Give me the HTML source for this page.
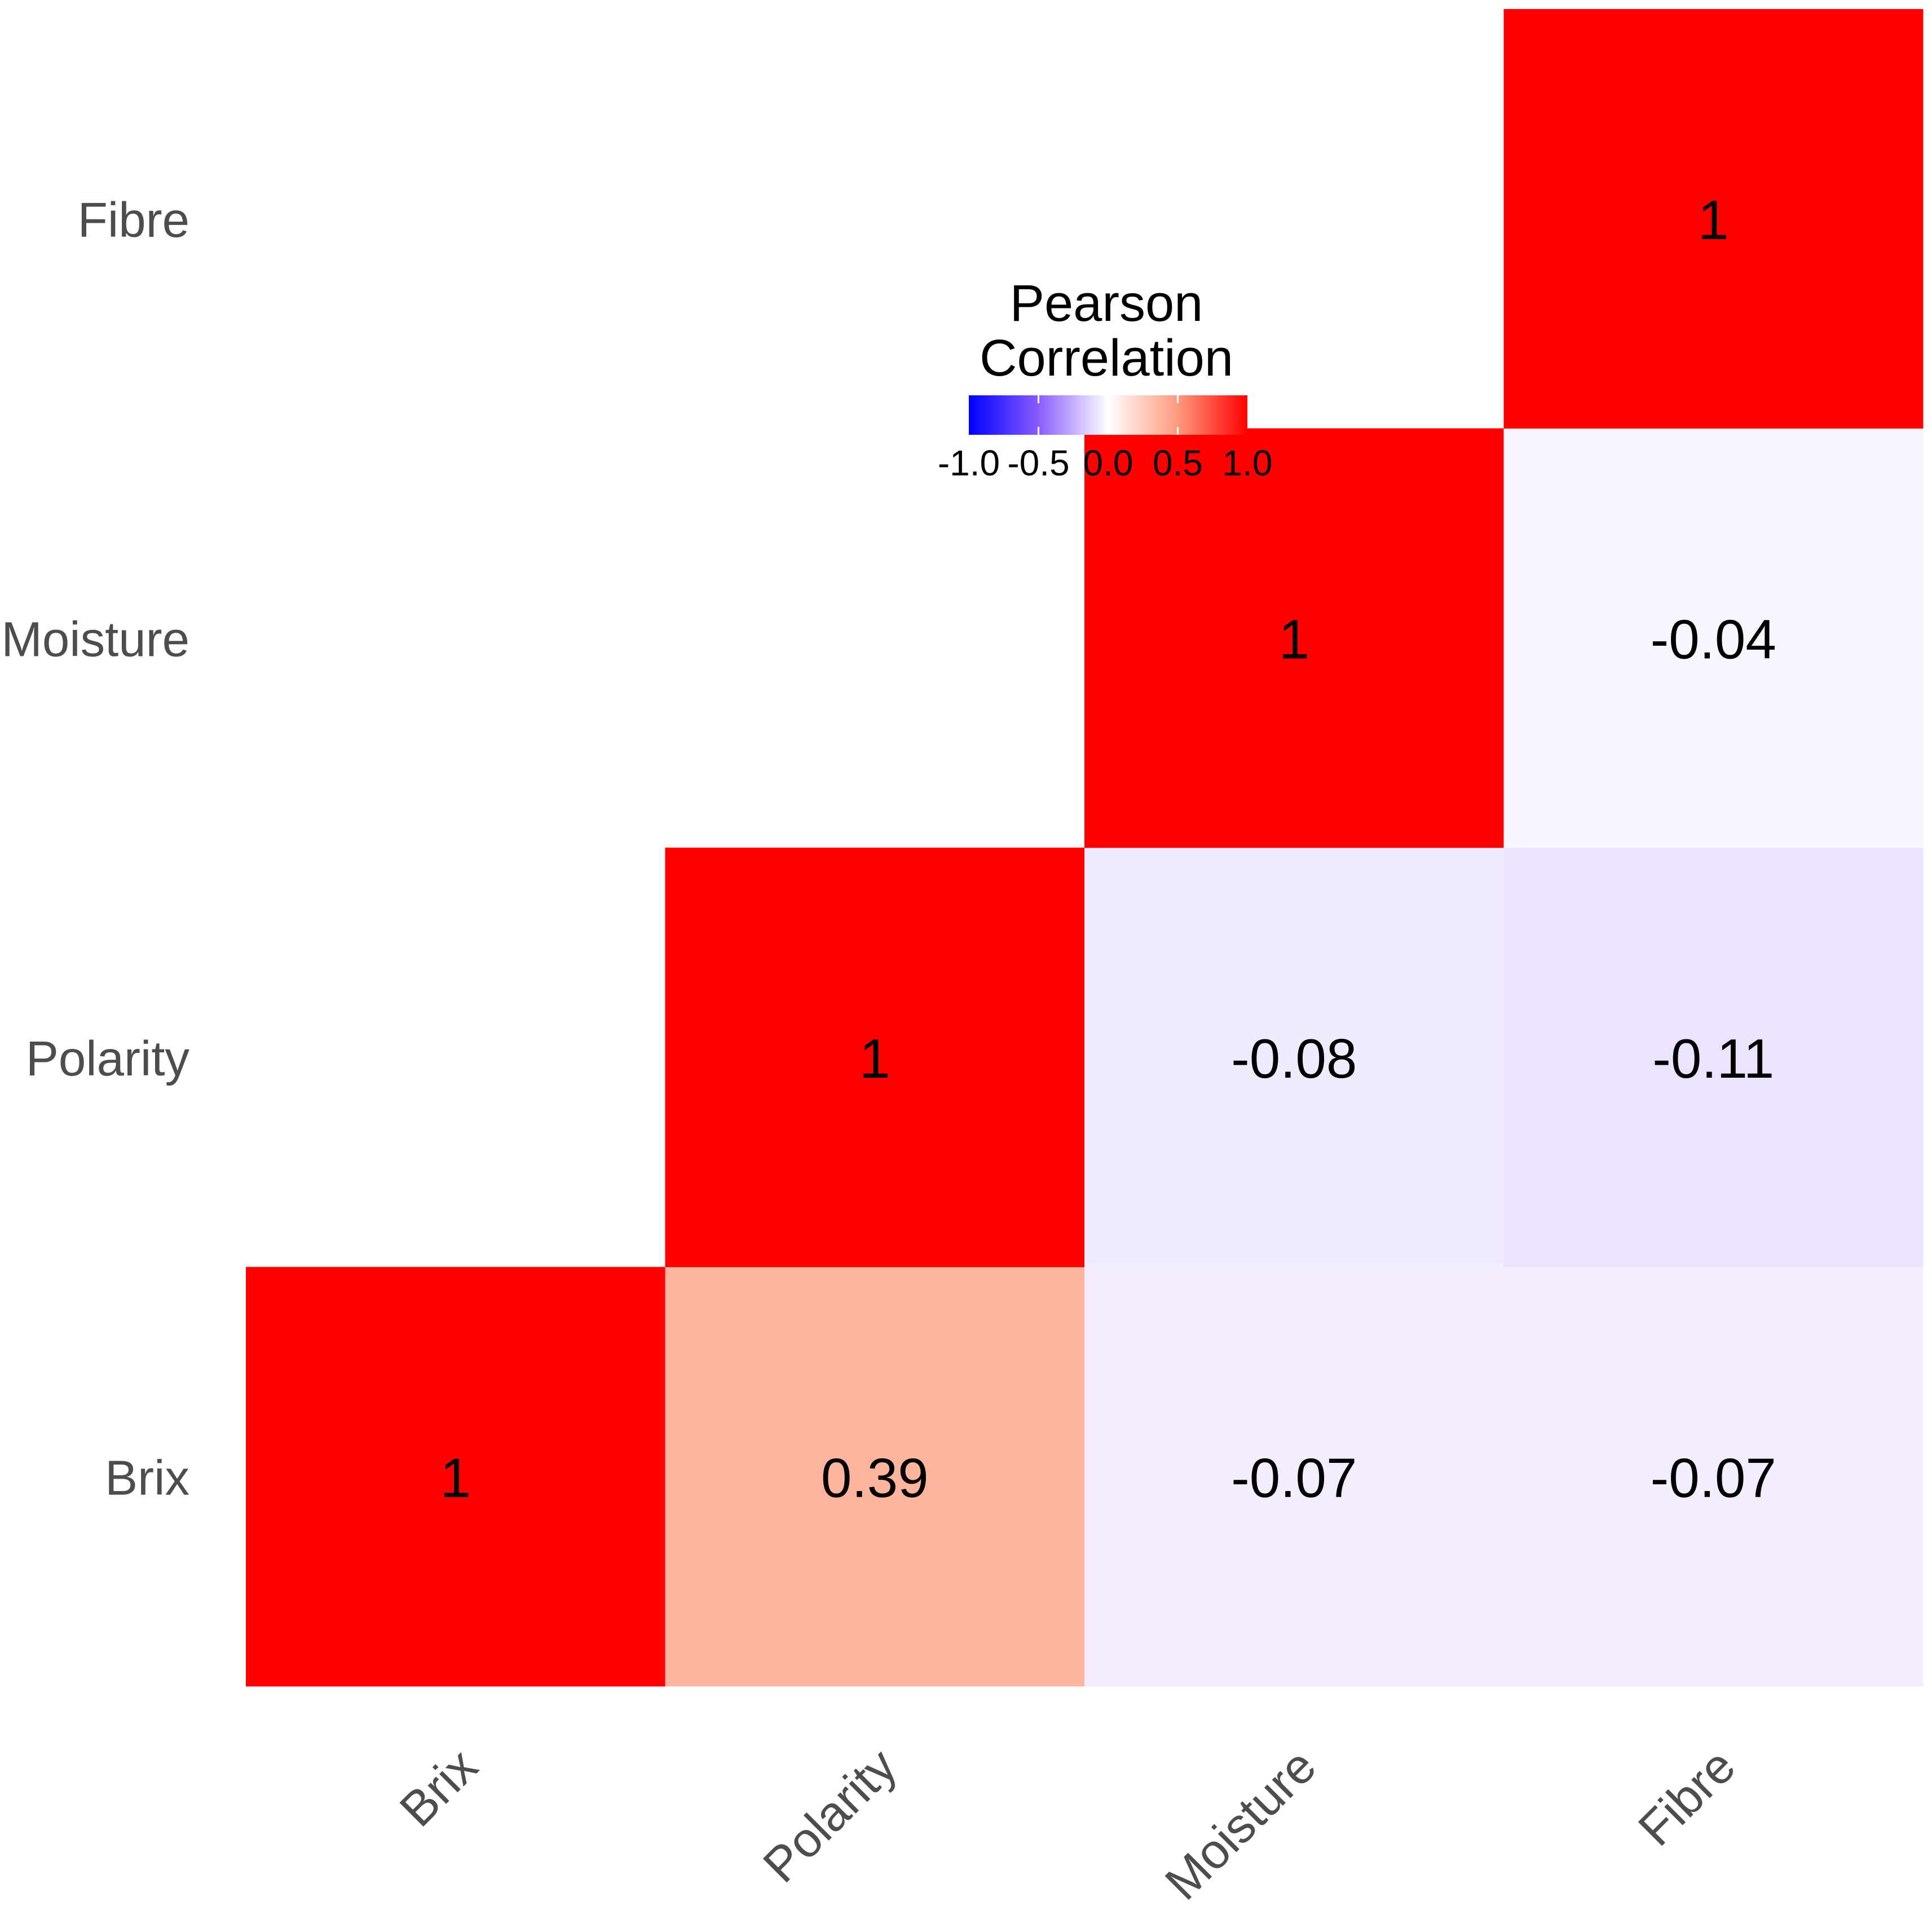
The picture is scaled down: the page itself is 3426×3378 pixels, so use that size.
<!DOCTYPE html>
<html><head><meta charset="utf-8"><style>
html,body{margin:0;padding:0;background:#fff;}
svg{display:block;font-family:"Liberation Sans",Arial,sans-serif;}
</style></head><body>
<svg id="chart" width="3426" height="3378" viewBox="0 0 3426 3378">
<defs>
<linearGradient id="grad" x1="0" x2="1" y1="0" y2="0">
<stop offset="0" stop-color="#0000ff"/>
<stop offset="0.25" stop-color="#8a5cff"/>
<stop offset="0.5" stop-color="#ffffff"/>
<stop offset="0.75" stop-color="#ff9a7e"/>
<stop offset="1" stop-color="#ff0000"/>
</linearGradient>
</defs>
<g id="cells"></g>
<g id="labels"></g>
<g id="yaxis"></g>
<g id="xaxis"></g>
<g id="legend">
<text x="1962" y="569" font-size="92" text-anchor="middle" fill="#000">Pearson</text>
<text x="1962" y="666" font-size="92" text-anchor="middle" fill="#000">Correlation</text>
<rect x="1718" y="701" width="494" height="70" fill="url(#grad)"/>
</g>
</svg>
<script>
const vars = ["Brix","Polarity","Moisture","Fibre"];
// lower triangle incl diagonal
const cellCol = [0,1,2,3,1,2,3,2,3,3];
const cellRow = [0,0,0,0,1,1,1,2,2,3];
const cellVal = [1,0.39,-0.07,-0.07,1,-0.08,-0.11,1,-0.04,1];
const legendTicks = [-1.0,-0.5,0.0,0.5,1.0];
const legendTickLabels = ["-1.0","-0.5","0.0","0.5","1.0"];

const NS="http://www.w3.org/2000/svg";
const x0=436, y1=2990, cw=743.5;
function xPos(i){return x0+i*cw;}
function yPos(j){return y1-(j+1)*cw;}
function legX(v){return 1965+v*247;}
function color(v){
  let r,g,b;
  if(v>=0){const t=Math.min(1,v);r=255;g=255*Math.pow(1-t,0.69);b=255*Math.pow(1-t,0.98);}
  else{const t=Math.min(1,-v);r=255*Math.pow(1-t,0.67);g=255*(1-t);b=255-4*t;}
  return `rgb(${Math.round(r)},${Math.round(g)},${Math.round(b)})`;
}
function mk(tag,attrs,parent){const e=document.createElementNS(NS,tag);for(const k in attrs)e.setAttribute(k,attrs[k]);parent.appendChild(e);return e;}
const cells=document.getElementById('cells'),labels=document.getElementById('labels');
for(let k=0;k<cellVal.length;k++){
  const v=cellVal[k],c=cellCol[k],r=cellRow[k];
  const rect=mk('rect',{x:xPos(c),y:yPos(r),width:cw+0.5,height:cw+0.5,fill:color(v)},cells);
  
  
  const t=mk('text',{x:xPos(c)+cw/2,y:yPos(r)+cw/2+36,'font-size':98,'text-anchor':'middle',fill:'#000'},labels);
  t.textContent=String(v);
  
  
}
const ya=document.getElementById('yaxis'),xa=document.getElementById('xaxis');
vars.forEach((name,i)=>{
  const t=mk('text',{x:336,y:yPos(i)+cw/2+32,'font-size':87,'text-anchor':'end',fill:'#4d4d4d'},ya);
  t.textContent=name;
  
  
  const ax=xPos(i)+cw/2+44, ay=3138;
  const u=mk('text',{x:ax,y:ay,'font-size':87,'text-anchor':'end',fill:'#4d4d4d',transform:`rotate(-45 ${ax} ${ay})`},xa);
  u.textContent=name;
  
  
});
const lg=document.getElementById('legend');
legendTicks.forEach((v,i)=>{
  if(Math.abs(v)<1){
    const l=mk('line',{x1:legX(v),x2:legX(v),y1:701,y2:715,stroke:'#fff','stroke-width':3},lg);
    
    
    const l2=mk('line',{x1:legX(v),x2:legX(v),y1:757,y2:771,stroke:'#fff','stroke-width':3},lg);
    
    
  }
  const t=mk('text',{x:legX(v),y:843,'font-size':64,'text-anchor':'middle',fill:'#000'},lg);
  t.textContent=legendTickLabels[i];
  
  
});
</script>
</body></html>
